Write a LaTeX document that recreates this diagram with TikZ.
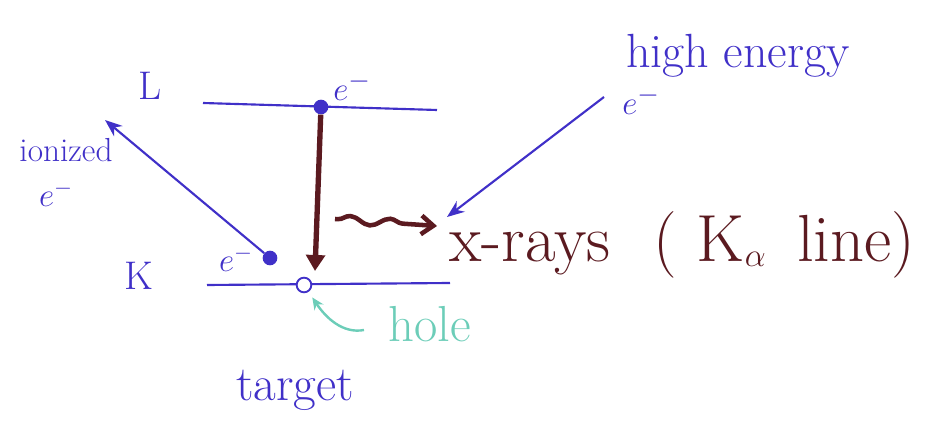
\documentclass[tikz,border=0pt]{standalone}
\usetikzlibrary{arrows.meta,decorations.pathmorphing}
\definecolor{ink}{HTML}{4030C8}
\definecolor{wine}{HTML}{5B1A20}
\definecolor{aqua}{HTML}{6CCDB8}
\begin{document}
\begin{tikzpicture}[x=0.75pt,y=-0.75pt,
  fs/.style={font=\fontsize{#1}{#1}\selectfont},
  lvl/.style={ink, line width=1.6pt},
  dotnode/.style={circle, fill=ink, inner sep=0pt, minimum size=11pt},
  holenode/.style={circle, draw=ink, fill=white, line width=1.4pt, inner sep=0pt, minimum size=11pt},
  bluearrow/.style={ink, line width=1.6pt, -{Stealth[length=13pt,width=10pt]}},
  winearrow/.style={wine, line width=4pt, -{Triangle[length=12pt,width=14pt]}},
  wavearrow/.style={wine, line width=3.4pt, decorate,
     decoration={snake, amplitude=3pt, segment length=30pt, pre length=2pt, post length=12pt},
     -{Straight Barb[length=9pt,width=14pt]}},
  holearrow/.style={aqua, line width=1.8pt, -{Stealth[length=9pt,width=8pt]}},
  bluetext/.style={ink, inner sep=0pt},
]
\useasboundingbox (0,0) rectangle (947,441);

% energy levels
\coordinate (L1) at (203,103);
\coordinate (L2) at (437,110);
\coordinate (K1) at (207,285);
\coordinate (K2) at (450,283);
\draw[lvl] (L1) -- (L2);
\draw[lvl] (K1) -- (K2);

\node[bluetext, fs=30] (Llab) at (150,86) {L};
\node[bluetext, fs=30] (Klab) at (139,276) {K};

% electrons and hole
\node[dotnode] (Ldot) at (321,107) {};
\node[dotnode] (Kdot) at (270,258) {};
\node[holenode] (hole) at (304,285) {};
\coordinate (holetop) at (315,271);

\node[bluetext, fs=28] (eL) at (352,86) {$e^-$};
\node[bluetext, fs=26] (eK) at (236,259) {$e^-$};

% transition arrow
\draw[winearrow] (Ldot) -- (holetop);

% ionized electron
\coordinate (ionend) at (105,120);
\draw[bluearrow] (Kdot) -- (ionend);
\node[bluetext, fs=25] (ionized) at (66,150) {ionized};
\node[bluetext, fs=26] (eion) at (56,194) {$e^-$};

% high energy electron
\node[bluetext, fs=36] (high) at (738,56) {high energy};
\node[bluetext, fs=28] (ehigh) at (641,100) {$e^-$};
\coordinate (hestart) at (604,97);
\coordinate (hetip) at (447,217);
\draw[bluearrow] (hestart) -- (hetip);

% x-rays
\coordinate (w1) at (335,219);
\coordinate (w2) at (437,226);
\draw[wavearrow] (w1) -- (w2);
\node[wine, inner sep=0pt, anchor=base west, fs=50] (xr) at (449,262)
  {x-rays\hspace{32pt}( K$_{\alpha}$\hspace{8pt} line)};

% hole label
\node[aqua, inner sep=0pt, fs=38] (holelab) at (430,324) {hole};
\coordinate (holetail) at (364,330);
\draw[holearrow, shorten >=5pt] (holetail) .. controls (343,334) and (326,318) .. (hole);

% target
\node[bluetext, fs=37] (target) at (295,390) {target};
\end{tikzpicture}
\end{document}
